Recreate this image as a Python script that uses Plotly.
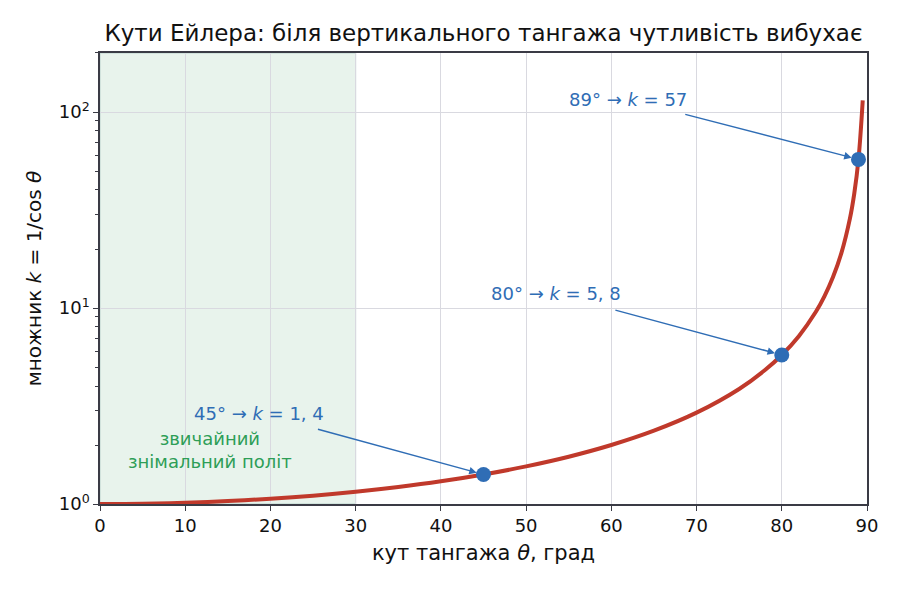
import math
import plotly.graph_objects as go

# curve k = 1/cos(theta)
theta = [0, 5, 10, 15, 20, 25, 30, 35, 40, 45, 50, 55, 60, 65, 70, 75, 78, 80,
         82, 84, 85, 86, 87, 88, 88.5, 89, 89.5]
k_vals = [1.000, 1.004, 1.015, 1.035, 1.064, 1.103, 1.155, 1.221, 1.305, 1.414,
          1.556, 1.743, 2.000, 2.366, 2.924, 3.864, 4.810, 5.759, 7.185, 9.567,
          11.47, 14.34, 19.11, 28.65, 38.20, 57.30, 114.6]

# highlighted points
pt_theta = [45, 80, 89]
pt_k = [1.414, 5.759, 57.30]
pt_labels = ["45° → <i>k</i> = 1, 4", "80° → <i>k</i> = 5, 8", "89° → <i>k</i> = 57"]

normal_band = [0, 30]

red = "#c0392b"
blue = "#2f6db5"
green = "#2e9e57"
spine = "#3a3b45"
font = "DejaVu Sans"

fig = go.Figure()

# shaded "normal flight" band
fig.add_vrect(x0=normal_band[0], x1=normal_band[1], fillcolor="#e8f3ec",
              line=dict(color="#b9d2cc", width=1), layer="below")

fig.add_trace(go.Scatter(x=theta, y=k_vals, mode="lines",
                         line=dict(color=red, width=4, shape="spline"),
                         showlegend=False, hoverinfo="skip"))
fig.add_trace(go.Scatter(x=pt_theta, y=pt_k, mode="markers",
                         marker=dict(color=blue, size=15),
                         showlegend=False, cliponaxis=False))

# text labels and arrows (text pos, arrow start)
text_pos = [(18.6, 2.91), (53.5, 11.8), (62.0, 116)]
arrow_start = [(25.4, 2.42), (60.3, 9.8), (68.5, 97.7)]
for i in range(len(pt_theta)):
    fig.add_annotation(x=text_pos[i][0], y=math.log10(text_pos[i][1]),
                       text=pt_labels[i], showarrow=False,
                       font=dict(color=blue, size=18, family=font))
    fig.add_annotation(x=pt_theta[i], y=math.log10(pt_k[i]),
                       ax=arrow_start[i][0], ay=math.log10(arrow_start[i][1]),
                       axref="x", ayref="y", text="", showarrow=True,
                       arrowhead=2, arrowsize=1, arrowwidth=1.5, arrowcolor=blue,
                       standoff=7)

fig.add_annotation(x=12.9, y=math.log10(1.88),
                   text="звичайний<br>знімальний політ", showarrow=False,
                   font=dict(color=green, size=18, family=font))

# page has an 8px body margin, so margins are shifted to compensate
fig.update_layout(
    width=901, height=592,
    margin=dict(l=92, r=42, t=45, b=96),
    paper_bgcolor="white", plot_bgcolor="white",
    font=dict(family=font, color="#111111", size=18),
    title=dict(text="Кути Ейлера: біля вертикального тангажа чутливість вибухає",
               x=0.5, xref="paper", y=1 - 25 / 592, yanchor="middle",
               font=dict(size=23, family=font, color="#111111")),
)

fig.update_xaxes(range=[0, 90], tickvals=list(range(0, 91, 10)),
                 showgrid=True, gridcolor="#d9d9e0", gridwidth=1,
                 showline=True, linecolor=spine, linewidth=1.5, mirror=True,
                 ticks="outside", ticklen=5, tickcolor=spine,
                 tickfont=dict(size=18), zeroline=False,
                 title=dict(text="кут тангажа <i>θ</i>, град", font=dict(size=21),
                            standoff=10))

minor_vals = [v * m for m in (1, 10, 100) for v in range(2, 10) if v * m <= 200]
fig.update_yaxes(type="log", range=[0, 2.301],
                 tickvals=[1, 10, 100],
                 ticktext=["10<sup>0</sup>", "10<sup>1</sup>", "10<sup>2</sup>"],
                 showgrid=True, gridcolor="#d9d9e0", gridwidth=1,
                 showline=True, linecolor=spine, linewidth=1.5, mirror=True,
                 ticks="outside", ticklen=5, tickcolor=spine,
                 tickfont=dict(size=18), zeroline=False,
                 minor=dict(tickvals=minor_vals, ticks="outside", ticklen=3,
                            tickcolor=spine, showgrid=False),
                 title=dict(text="множник <i>k</i> = 1/cos <i>θ</i>", font=dict(size=20),
                            standoff=12))

fig.write_html("out.html")
